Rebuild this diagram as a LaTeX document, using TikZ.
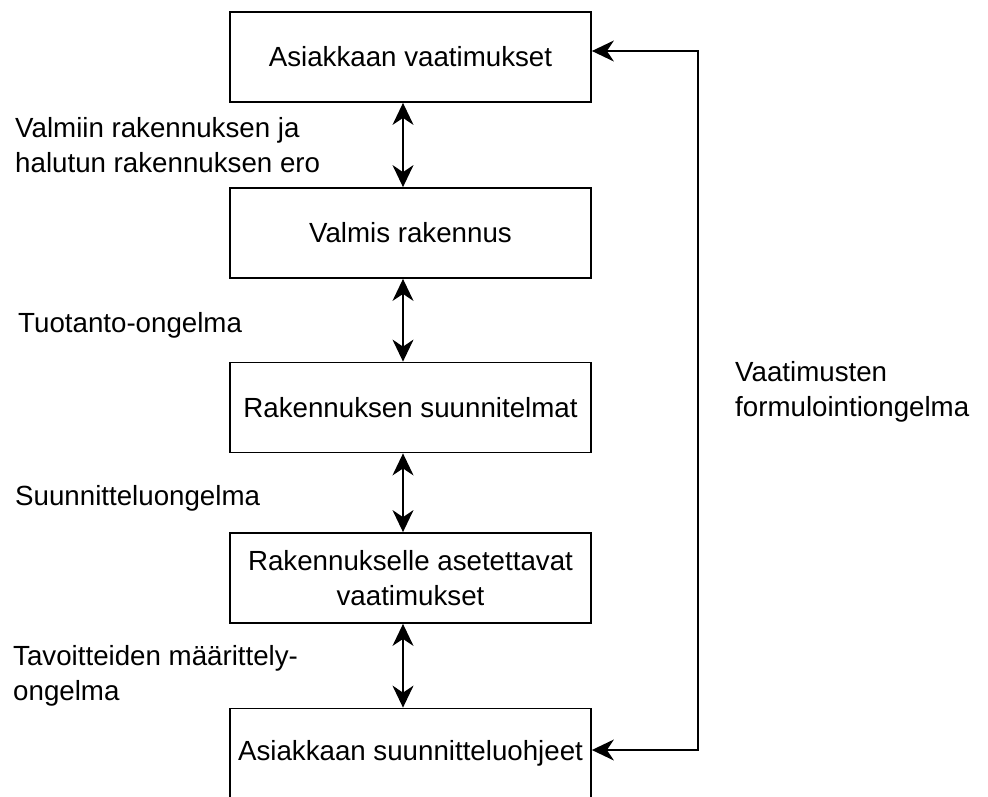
\documentclass[tikz,border=0pt]{standalone}
\usepackage{fontspec}
\setmainfont{Liberation Sans}
\usetikzlibrary{arrows.meta}

\tikzset{
  box/.style={draw, line width=1.8pt, minimum width=361pt, minimum height=90pt,
    inner sep=0pt, align=center, font=\fontsize{27.7}{35}\selectfont},
  note/.style={inner sep=0pt, align=left, font=\fontsize{27.7}{35}\selectfont},
  link/.style={line width=1.5pt, {Stealth[length=22pt, width=21pt, inset=7pt]}-{Stealth[length=22pt, width=21pt, inset=7pt]}},
}

\begin{document}
\begin{tikzpicture}[x=1pt, y=-1pt]
  \useasboundingbox (0,0) rectangle (988,796);

  % coordinates of the connector lines
  \coordinate (ax) at (403,0);
  \coordinate (fbtop) at (698,51);
  \coordinate (fbbot) at (698,750);

  % the column of boxes
  \node[box] (vaat) at (410.5,57) {Asiakkaan vaatimukset};
  \node[box] (valmis) at (410.5,233) {Valmis rakennus};
  \node[box] (suun) at (410.5,407.5) {Rakennuksen suunnitelmat};
  \node[box] (aset) at (410.5,578) {Rakennukselle asetettavat\\vaatimukset};
  \node[box] (ohje) at (410.5,753.5) {Asiakkaan suunnitteluohjeet};

  % double arrows between the boxes
  \draw[link] (vaat.south -| ax) -- (valmis.north -| ax);
  \draw[link] (valmis.south -| ax) -- (suun.north -| ax);
  \draw[link] (suun.south -| ax) -- (aset.north -| ax);
  \draw[link] (aset.south -| ax) -- (ohje.north -| ax);

  % feedback line on the right
  \draw[link] (vaat.east |- fbtop) -- (fbtop) -- (fbbot) -- (ohje.east |- fbbot);

  % problem labels
  \node[note, anchor=north west] (ero) at (15,117) {Valmiin rakennuksen ja\\halutun rakennuksen ero};
  \node[note, anchor=base west] (tuot) at (18,332) {Tuotanto-ongelma};
  \node[note, anchor=base west] (suunn) at (15,505) {Suunnitteluongelma};
  \node[note, anchor=north west] (tav) at (13,645) {Tavoitteiden määrittely-\\ongelma};
  \node[note, anchor=north west] (form) at (735,361) {Vaatimusten\\formulointiongelma};

\end{tikzpicture}
\end{document}
